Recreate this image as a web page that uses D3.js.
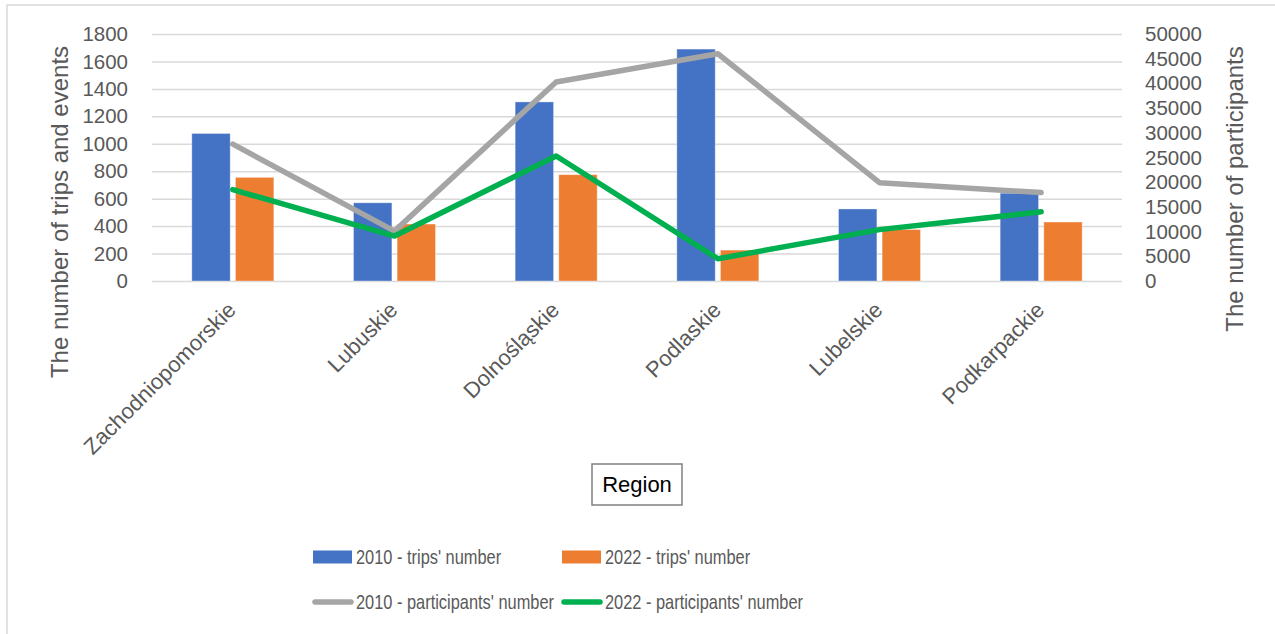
<!DOCTYPE html>
<html>
<head>
<meta charset="utf-8">
<script src="https://cdn.jsdelivr.net/npm/d3@7"></script>
<style>
  html, body { margin: 0; padding: 0; background: #fff; }
  svg { display: block; }
  text { font-family: "Liberation Sans", Arial, sans-serif; }
</style>
</head>
<body>
<svg id="chart" width="1275" height="634"></svg>
<script>
const categories = ["Zachodniopomorskie", "Lubuskie", "Dolnośląskie", "Podlaskie", "Lubelskie", "Podkarpackie"];
const trips2010 = [1075, 570, 1305, 1690, 525, 640];
const trips2022 = [755, 415, 775, 225, 375, 430];
const participants2010 = [27700, 10100, 40300, 46000, 19900, 17900];
const participants2022 = [18500, 9100, 25300, 4500, 10400, 14000];
const leftTicks = [0, 200, 400, 600, 800, 1000, 1200, 1400, 1600, 1800];
const rightTicks = [0, 5000, 10000, 15000, 20000, 25000, 30000, 35000, 40000, 45000, 50000];
const seriesNames = ["2010 - trips' number", "2022 - trips' number", "2010 - participants' number", "2022 - participants' number"];
const colors = ["#4472c4", "#ed7d31", "#a5a5a5", "#00b050"];

const svg = d3.select("#chart");
const textColor = "#595959";

// outer border
svg.append("rect").attr("x", 7).attr("y", 5).attr("width", 1300).attr("height", 700)
  .attr("fill", "none").attr("stroke", "#d9d9d9").attr("stroke-width", 1.5);

const plot = { left: 152, right: 1122, top: 34, bottom: 281 };

const x = d3.scaleBand().domain(categories).range([plot.left, plot.right]).padding(0);
const inner = d3.scaleBand().domain([0, 1]).range([-41, 41]).paddingInner(0.12);
const yL = d3.scaleLinear().domain([0, 1800]).range([plot.bottom, plot.top]);
const yR = d3.scaleLinear().domain([0, 50000]).range([plot.bottom, plot.top]);

// gridlines
const grid = svg.append("g")
  .attr("transform", `translate(${plot.left},0)`)
  .call(d3.axisLeft(yL).tickValues(leftTicks).tickSize(-(plot.right - plot.left)).tickFormat(""));
grid.select(".domain").remove();
grid.selectAll("line").attr("stroke", "#d9d9d9").attr("stroke-width", 1.5);

// left axis labels
const la = svg.append("g")
  .attr("transform", `translate(${plot.left - 24},0)`)
  .call(d3.axisLeft(yL).tickValues(leftTicks).tickSize(0).tickPadding(0).tickFormat(d3.format("d")));
la.select(".domain").remove();
la.selectAll("text").attr("fill", textColor).style("font-size", "20.5px")
  .style("font-family", "'Liberation Sans', Arial, sans-serif");

// right axis labels
const ra = svg.append("g")
  .attr("transform", `translate(${plot.right + 23},0)`)
  .call(d3.axisRight(yR).tickValues(rightTicks).tickSize(0).tickPadding(0).tickFormat(d3.format("d")));
ra.select(".domain").remove();
ra.selectAll("text").attr("fill", textColor).style("font-size", "20.5px")
  .style("font-family", "'Liberation Sans', Arial, sans-serif");

// bars
const barSeries = [trips2010, trips2022];
barSeries.forEach((vals, si) => {
  svg.append("g").selectAll("rect").data(vals).join("rect")
    .attr("x", (d, i) => x(categories[i]) + x.bandwidth() / 2 + inner(si))
    .attr("width", inner.bandwidth())
    .attr("y", d => yL(d))
    .attr("height", d => yL(0) - yL(d))
    .attr("fill", colors[si])
    .attr("stroke", "#ffffff").attr("stroke-opacity", 0.35).attr("stroke-width", 1);
});

// lines
const lineSeries = [participants2010, participants2022];
const line = d3.line()
  .x((d, i) => x(categories[i]) + x.bandwidth() / 2)
  .y(d => yR(d));
lineSeries.forEach((vals, si) => {
  svg.append("path").datum(vals)
    .attr("d", line)
    .attr("fill", "none")
    .attr("stroke", colors[si + 2])
    .attr("stroke-width", 5.5)
    .attr("stroke-linecap", "round")
    .attr("stroke-linejoin", "round");
});

// category labels
const xa = svg.append("g")
  .attr("transform", `translate(0,${plot.bottom})`)
  .call(d3.axisBottom(x).tickSize(0).tickPadding(0));
xa.select(".domain").remove();
xa.selectAll("text")
  .attr("fill", textColor)
  .style("font-size", "22px")
  .style("font-family", "'Liberation Sans', Arial, sans-serif")
  .attr("text-anchor", "end")
  .attr("dy", "0.35em")
  .attr("transform", "translate(-1,25) rotate(-45)");

// axis titles
svg.append("text")
  .attr("transform", `translate(68,${(382 + 42) / 2}) rotate(-90)`)
  .attr("text-anchor", "middle")
  .attr("fill", textColor)
  .style("font-size", "24px")
  .text("The number of trips and events");
svg.append("text")
  .attr("transform", `translate(1243,${(338 + 40) / 2}) rotate(-90)`)
  .attr("text-anchor", "middle")
  .attr("fill", textColor)
  .style("font-size", "24px")
  .text("The number of participants");

// Region box
svg.append("rect").attr("x", 592).attr("y", 464).attr("width", 90).attr("height", 41)
  .attr("fill", "#fff").attr("stroke", "#808080").attr("stroke-width", 1.5);
svg.append("text").attr("x", 637).attr("y", 492).attr("text-anchor", "middle")
  .attr("fill", "#000").style("font-size", "22px").text("Region");

// legend
const legendPos = [[313, 557], [562, 557], [313, 602], [562, 602]];
const lg = svg.append("g");
seriesNames.forEach((name, i) => {
  const [lx, ly] = legendPos[i];
  if (i < 2) {
    lg.append("rect").attr("x", lx).attr("y", ly - 6.5).attr("width", 39).attr("height", 13)
      .attr("fill", colors[i]);
  } else {
    lg.append("line").attr("x1", lx + 2).attr("x2", lx + 38).attr("y1", ly).attr("y2", ly)
      .attr("stroke", colors[i]).attr("stroke-width", 5.5).attr("stroke-linecap", "round");
  }
  lg.append("text")
    .attr("transform", `translate(${lx + 43},${ly}) scale(0.82,1)`)
    .attr("dy", "0.35em")
    .attr("fill", textColor)
    .style("font-size", "20px")
    .text(name);
});
</script>
</body>
</html>
